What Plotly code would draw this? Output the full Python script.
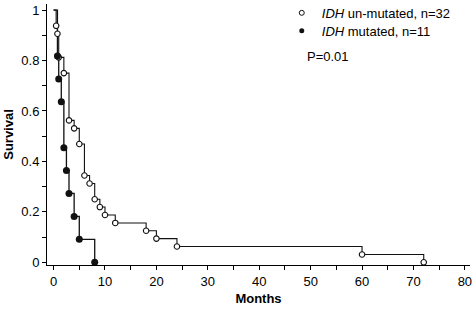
import plotly.graph_objects as go

# Kaplan-Meier data
unmut_months = [0.5, 0.75, 1, 2, 3, 4, 5, 6, 7, 8, 9, 10, 12, 18, 20, 24, 60, 72]
unmut_surv = [0.9375, 0.906, 0.8125, 0.75, 0.5625, 0.531, 0.469, 0.344, 0.3125,
              0.25, 0.219, 0.1875, 0.156, 0.125, 0.094, 0.0625, 0.031, 0.0]
mut_months = [0.75, 1, 1.5, 2, 2.5, 3, 4, 5, 8]
mut_surv = [0.818, 0.727, 0.636, 0.4545, 0.364, 0.273, 0.182, 0.091, 0.0]

x_ticks = [0, 10, 20, 30, 40, 50, 60, 70, 80]
y_ticks = [0, 0.2, 0.4, 0.6, 0.8, 1]
y_tick_labels = ["0", "0.2", "0.4", "0.6", "0.8", "1"]

legend_labels = ["<i>IDH</i> un-mutated, n=32", "<i>IDH</i> mutated, n=11"]
p_text = "P=0.01"

FONT = "Liberation Sans, Arial, Helvetica, sans-serif"

fig = go.Figure()

# step lines
fig.add_trace(go.Scatter(x=[0] + unmut_months, y=[1] + unmut_surv, mode="lines",
                         line=dict(color="#111111", width=1.1, shape="hv"),
                         showlegend=False, hoverinfo="skip"))
fig.add_trace(go.Scatter(x=[0] + mut_months, y=[1] + mut_surv, mode="lines",
                         line=dict(color="#111111", width=1.3, shape="hv"),
                         showlegend=False, hoverinfo="skip"))
# markers
fig.add_trace(go.Scatter(x=unmut_months, y=unmut_surv, mode="markers",
                         marker=dict(symbol="circle", size=5.5, color="white",
                                     line=dict(color="#111111", width=1.1)),
                         showlegend=False))
fig.add_trace(go.Scatter(x=mut_months, y=mut_surv, mode="markers",
                         marker=dict(symbol="circle", size=7, color="#111111",
                                     line=dict(width=0)),
                         showlegend=False))
# legend entries (one legend per row for tight spacing)
fig.add_trace(go.Scatter(x=[None], y=[None], mode="markers", name=legend_labels[0],
                         legend="legend",
                         marker=dict(symbol="circle", size=5, color="white",
                                     line=dict(color="#111111", width=1))))
fig.add_trace(go.Scatter(x=[None], y=[None], mode="markers", name=legend_labels[1],
                         legend="legend2",
                         marker=dict(symbol="circle", size=5, color="#111111")))

fig.add_annotation(text=p_text, xref="paper", yref="paper", x=0.61, y=0.797,
                   xanchor="left", yanchor="middle", showarrow=False,
                   font=dict(family=FONT, size=13, color="black"))

leg_common = dict(xanchor="left", yanchor="middle", bgcolor="rgba(0,0,0,0)",
                  font=dict(family=FONT, size=13, color="black"), itemwidth=30)

fig.update_layout(
    width=474, height=310,
    margin=dict(l=47, r=4, t=4, b=45, autoexpand=False),
    plot_bgcolor="white", paper_bgcolor="white",
    font=dict(family=FONT, size=13, color="black"),
    legend=dict(x=0.555, y=0.966, **leg_common),
    legend2=dict(x=0.555, y=0.897, **leg_common),
    xaxis=dict(range=[-1.28, 81.0], tickvals=x_ticks, ticks="outside", ticklen=4,
               tickwidth=1, tickcolor="black", showline=True, linecolor="black",
               linewidth=1, showgrid=False, zeroline=False,
               minor=dict(dtick=5, tick0=0, ticks="outside", ticklen=4,
                          tickcolor="black", showgrid=False),
               title=dict(text="<b>Months</b>", font=dict(family=FONT, size=13),
                          standoff=6),
               automargin=False, tickfont=dict(family=FONT, size=13)),
    yaxis=dict(range=[-0.0107, 1.024], tickvals=y_ticks, ticktext=y_tick_labels,
               ticks="outside", ticklen=4, tickwidth=1, tickcolor="black",
               showline=True, linecolor="black", linewidth=1, showgrid=False,
               zeroline=False,
               minor=dict(dtick=0.1, tick0=0, ticks="outside", ticklen=4,
                          tickcolor="black", showgrid=False),
               title=dict(text="<b>Survival</b>", font=dict(family=FONT, size=13),
                          standoff=4),
               automargin=False, tickfont=dict(family=FONT, size=13)),
)

fig.write_html("out.html", config={"displayModeBar": False},
               post_script="document.body.style.margin='0px';")
